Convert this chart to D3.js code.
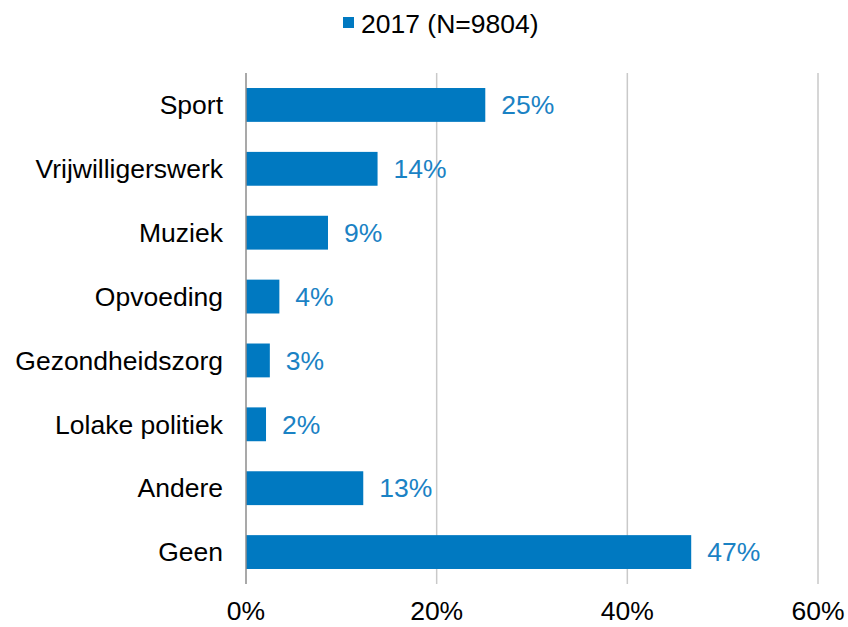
<!DOCTYPE html>
<html>
<head>
<meta charset="utf-8">
<script src="https://cdn.jsdelivr.net/npm/d3@7"></script>
<style>
  body { margin: 0; background: #fff; }
  text { font-family: "Liberation Sans", Arial, sans-serif; }
</style>
</head>
<body>
<div id="chart"></div>
<script>
const categories = ["Sport", "Vrijwilligerswerk", "Muziek", "Opvoeding", "Gezondheidszorg", "Lolake politiek", "Andere", "Geen"]
const values = [25.1, 13.8, 8.6, 3.5, 2.5, 2.1, 12.3, 46.7]
const labels = ["25%", "14%", "9%", "4%", "3%", "2%", "13%", "47%"]
const xTicks = [0, 20, 40, 60]
const seriesName = "2017 (N=9804)"

const width = 848, height = 627
const barColor = "#0079c1"
const fontSize = 26.5

const svg = d3.select("#chart").append("svg")
    .attr("width", width)
    .attr("height", height)

var xScale = d3.scaleLinear().domain([0, 60]).range([246, 818])
var yScale = d3.scaleBand().domain(categories).range([73, 584]).paddingInner(0.47).paddingOuter(0.235)

// gridlines
svg.append("g")
    .selectAll("line")
    .data(xTicks.slice(1))
    .enter()
    .append("line")
    .attr("x1", d => xScale(d)).attr("x2", d => xScale(d))
    .attr("y1", 73).attr("y2", 584)
    .attr("stroke", "#c9c9c9")
    .attr("stroke-width", 1.5)

// bars
svg.selectAll("rect.bar")
    .data(values)
    .enter()
    .append("rect")
    .attr("class", "bar")
    .attr("x", xScale(0))
    .attr("y", (d, i) => yScale(categories[i]))
    .attr("width", d => xScale(d) - xScale(0))
    .attr("height", yScale.bandwidth())
    .attr("fill", barColor)

// zero axis line
svg.append("line")
    .attr("x1", xScale(0)).attr("x2", xScale(0))
    .attr("y1", 73).attr("y2", 584)
    .attr("stroke", "#8c8c8c")
    .attr("stroke-width", 1.5)

// value labels
svg.selectAll("text.val")
    .data(values)
    .enter()
    .append("text")
    .attr("class", "val")
    .attr("x", d => xScale(d) + 16)
    .attr("y", (d, i) => yScale(categories[i]) + yScale.bandwidth() / 2)
    .attr("dy", "0.35em")
    .attr("font-size", fontSize)
    .attr("fill", "#1a82c4")
    .text((d, i) => labels[i])

// category labels
svg.selectAll("text.cat")
    .data(categories)
    .enter()
    .append("text")
    .attr("class", "cat")
    .attr("x", 223)
    .attr("y", d => yScale(d) + yScale.bandwidth() / 2)
    .attr("dy", "0.35em")
    .attr("text-anchor", "end")
    .attr("font-size", fontSize)
    .attr("fill", "#000")
    .text(d => d)

// x tick labels
svg.selectAll("text.tick")
    .data(xTicks)
    .enter()
    .append("text")
    .attr("class", "tick")
    .attr("x", d => xScale(d))
    .attr("y", 620)
    .attr("text-anchor", "middle")
    .attr("font-size", fontSize)
    .attr("fill", "#000")
    .text(d => d + "%")

// legend
const legend = svg.append("g")
legend.append("rect")
    .attr("x", 343).attr("y", 17)
    .attr("width", 11).attr("height", 11)
    .attr("fill", barColor)
legend.append("text")
    .attr("x", 361).attr("y", 33)
    .attr("font-size", fontSize)
    .attr("fill", "#000")
    .text(seriesName)
</script>
</body>
</html>
